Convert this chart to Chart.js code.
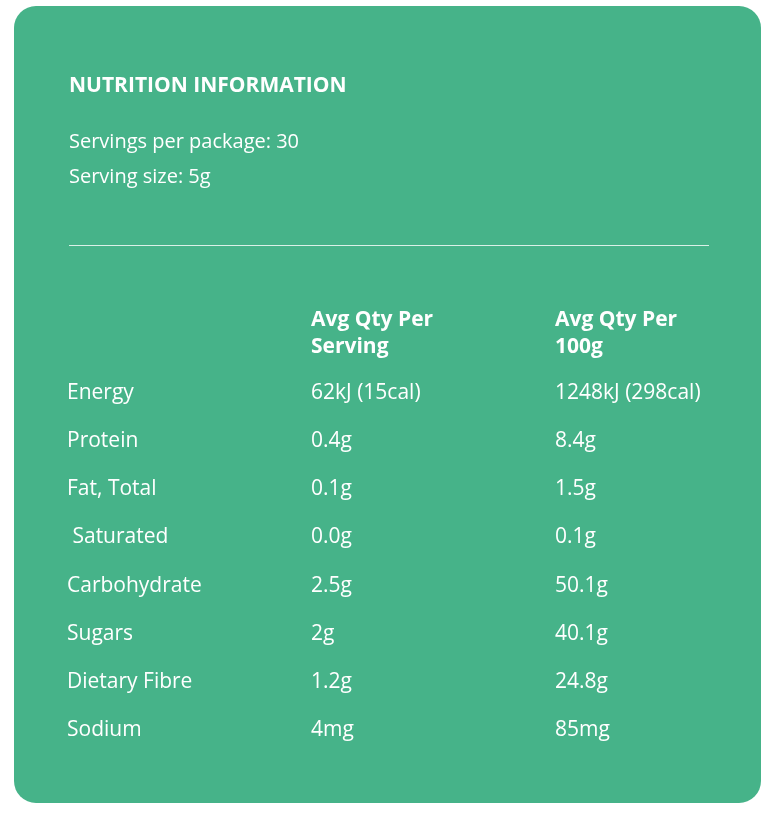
<!DOCTYPE html>
<html>
<head>
<meta charset="utf-8">
<script src="https://cdn.jsdelivr.net/npm/chart.js@4"></script>
<style>
  html, body { margin: 0; padding: 0; background: #fff; }
  #wrap { width: 768px; height: 816px; }
</style>
</head>
<body>
<div id="wrap"><canvas id="nutritionChart" width="768" height="816"></canvas></div>
<script>
// Table data
const columns = ['Nutrient', 'Per Serving', 'Per 100g'];
const headers = ['', 'Avg Qty Per\nServing', 'Avg Qty Per\n100g'];
const nutrients = ['Energy', 'Protein', 'Fat, Total', ' Saturated', 'Carbohydrate', 'Sugars', 'Dietary Fibre', 'Sodium'];
const perServing = ['62kJ (15cal)', '0.4g', '0.1g', '0.0g', '2.5g', '2g', '1.2g', '4mg'];
const per100g = ['1248kJ (298cal)', '8.4g', '1.5g', '0.1g', '50.1g', '40.1g', '24.8g', '85mg'];
const titleText = 'NUTRITION INFORMATION';
const servingLines = ['Servings per package: 30', 'Serving size: 5g'];

const FONT = '"Open Sans", Lato, sans-serif';
const GREEN = '#46b389';

// one invisible point per cell, text is drawn at the point's scale position
const cellColumns = [nutrients, perServing, per100g];
const points = [];
cellColumns.forEach((col, ci) => {
    col.forEach((txt, ri) => points.push({ x: columns[ci], y: nutrients[ri], text: txt }));
});

function roundRect(ctx, x, y, w, h, r) {
    ctx.beginPath();
    ctx.moveTo(x + r, y);
    ctx.arcTo(x + w, y, x + w, y + h, r);
    ctx.arcTo(x + w, y + h, x, y + h, r);
    ctx.arcTo(x, y + h, x, y, r);
    ctx.arcTo(x, y, x + w, y, r);
    ctx.closePath();
}

const panelPlugin = {
    id: 'panel',
    beforeDraw(chart) {
        const ctx = chart.ctx;
        const xs = chart.scales.x;
        ctx.save();
        ctx.fillStyle = GREEN;
        roundRect(ctx, 14, 6, 747, 797, 22);
        ctx.fill();

        ctx.fillStyle = '#fff';
        ctx.textBaseline = 'middle';
        ctx.textAlign = 'left';
        ctx.font = 'bold 21px ' + FONT;
        ctx.fillText(titleText, 69, 86);
        ctx.font = '20px ' + FONT;
        servingLines.forEach((l, i) => ctx.fillText(l, 69, 142 + i * 35));

        ctx.strokeStyle = 'rgba(255,255,255,0.8)';
        ctx.lineWidth = 1;
        ctx.beginPath();
        ctx.moveTo(69, 245.5);
        ctx.lineTo(709, 245.5);
        ctx.stroke();

        // column headers
        ctx.font = 'bold 21px ' + FONT;
        headers.forEach((h, i) => {
            if (!h) return;
            const px = xs.getPixelForValue(i);
            h.split('\n').forEach((line, li) => ctx.fillText(line, px, 320 + li * 27));
        });
        ctx.restore();
    },
    afterDatasetsDraw(chart) {
        const ctx = chart.ctx;
        const xs = chart.scales.x, ys = chart.scales.y;
        ctx.save();
        ctx.fillStyle = '#fff';
        ctx.textBaseline = 'middle';
        ctx.textAlign = 'left';
        ctx.font = '21px ' + FONT;
        chart.data.datasets[0].data.forEach(p => {
            ctx.fillText(p.text, xs.getPixelForValue(columns.indexOf(p.x)), ys.getPixelForValue(nutrients.indexOf(p.y)));
        });
        ctx.restore();
    }
};

const ctx = document.getElementById('nutritionChart').getContext('2d');
new Chart(ctx, {
    type: 'scatter',
    data: {
        datasets: [{
            data: points,
            pointRadius: 0,
            pointHoverRadius: 0
        }]
    },
    options: {
        responsive: false,
        animation: false,
        layout: { padding: { left: 67, right: 213, top: 393, bottom: 86 } },
        plugins: { legend: { display: false }, tooltip: { enabled: false } },
        scales: {
            x: { type: 'category', labels: columns, offset: false, display: false },
            y: { type: 'category', labels: nutrients, offset: false, display: false }
        }
    },
    plugins: [panelPlugin]
});
</script>
</body>
</html>
